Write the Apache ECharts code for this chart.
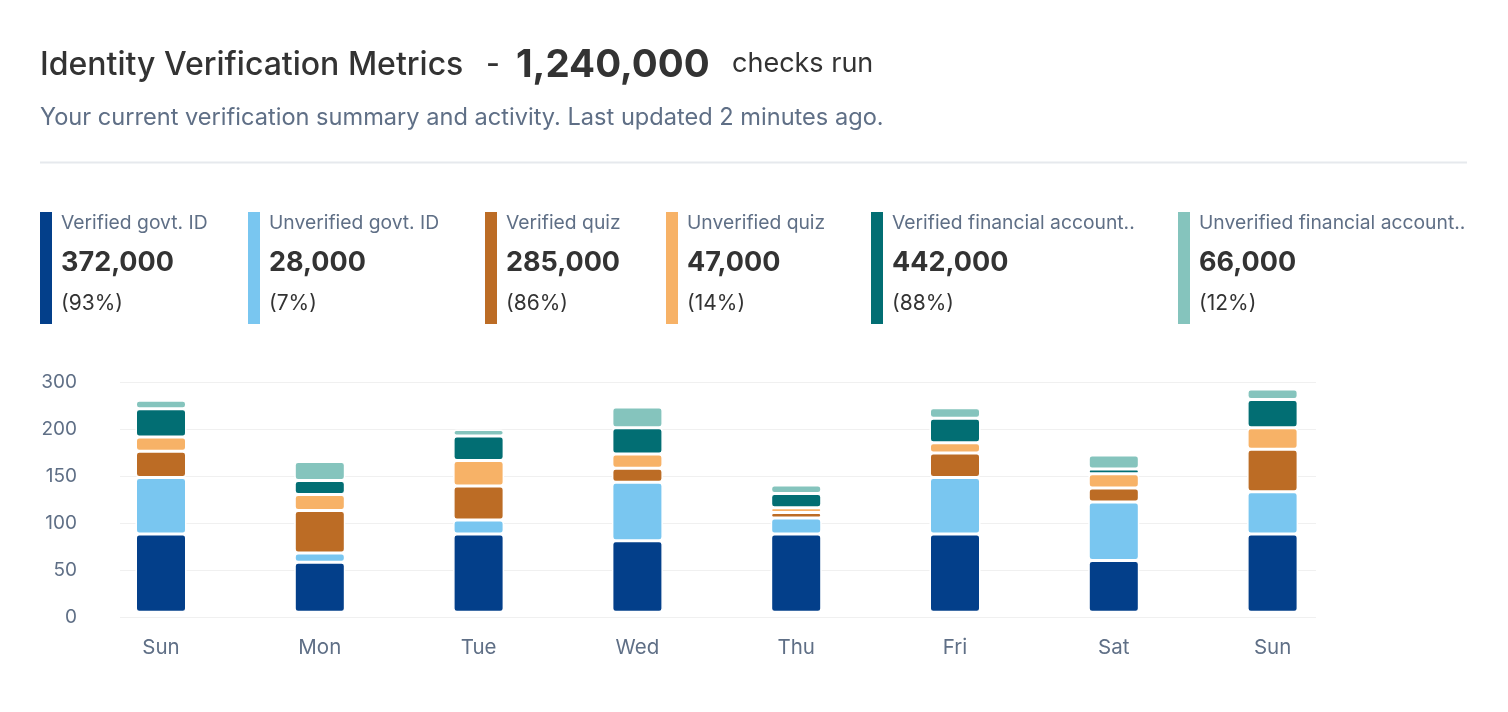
<!DOCTYPE html>
<html>
<head>
<meta charset="utf-8">
<title>Identity Verification Metrics</title>
<script src="https://cdn.jsdelivr.net/npm/echarts@6/dist/echarts.min.js"></script>
<style>
html, body { margin: 0; padding: 0; background: #fff; }
#main { width: 1508px; height: 712px; }
</style>
</head>
<body>
<div id="main"></div>
<script>
// data
var days = ['Sun', 'Mon', 'Tue', 'Wed', 'Thu', 'Fri', 'Sat', 'Sun'];
var yTickLabels = ['0', '50', '100', '150', '200', '300'];
var seriesNames = ['Verified govt. ID', 'Unverified govt. ID', 'Verified quiz', 'Unverified quiz', 'Verified financial account..', 'Unverified financial account..'];
var verifiedGovtId = [83, 53, 83, 76, 83, 83, 55, 83];
var unverifiedGovtId = [60, 10, 15, 62, 17, 60, 62, 45];
var verifiedQuiz = [28, 45, 36, 15, 6, 26, 15, 45];
var unverifiedQuiz = [15, 17, 27, 15, 5, 11, 15, 23];
var verifiedFinancial = [30, 15, 26, 28, 15, 26, 5, 30];
var unverifiedFinancial = [9, 20, 7, 22, 9, 11, 15, 11];
var legendTotals = ['372,000', '28,000', '285,000', '47,000', '442,000', '66,000'];
var legendShares = ['(93%)', '(7%)', '(86%)', '(14%)', '(88%)', '(12%)'];
var totalChecks = '1,240,000';

// style
var colors = ['#033f8a', '#79c6f0', '#bc6c25', '#f7b267', '#026e73', '#85c4bd'];
var legendX = [40, 248, 485, 666, 871, 1178];
var FONT = 'Inter, "Noto Sans", sans-serif';
var GREY = '#5f6f86';
var DARK = '#333333';

var chart = echarts.init(document.getElementById('main'));
var seriesData = [verifiedGovtId, unverifiedGovtId, verifiedQuiz, unverifiedQuiz, verifiedFinancial, unverifiedFinancial];

var series = seriesData.map(function(vals, i){
	return {
		name : seriesNames[i],
		type : 'bar',
		stack : 'checks',
		xAxisIndex : 1,
		yAxisIndex : 1,
		barWidth : 51,
		data : vals,
		itemStyle : {
			color : colors[i],
			borderColor : '#ffffff',
			borderWidth : 1.5,
			borderRadius : 3
		},
		emphasis : { disabled : true }
	};
});

// header + legend cards
var graphics = [
	{ type : 'text', x : 40, y : 65, style : { text : 'Identity Verification Metrics', font : '500 32px ' + FONT, fill : DARK, verticalAlign : 'middle' } },
	{ type : 'text', x : 486, y : 65, style : { text : '-', font : '500 30px ' + FONT, fill : DARK, verticalAlign : 'middle' } },
	{ type : 'text', x : 516, y : 65, style : { text : totalChecks, font : '700 38.5px ' + FONT, fill : DARK, verticalAlign : 'middle' } },
	{ type : 'text', x : 732, y : 64, style : { text : 'checks run', font : '400 27px ' + FONT, fill : DARK, verticalAlign : 'middle' } },
	{ type : 'text', x : 40, y : 118, style : { text : 'Your current verification summary and activity. Last updated 2 minutes ago.', font : '400 23.6px ' + FONT, fill : GREY, verticalAlign : 'middle' } },
	{ type : 'line', shape : { x1 : 40, y1 : 162.5, x2 : 1467, y2 : 162.5 }, style : { stroke : '#e6e9ed', lineWidth : 2 } }
];
seriesNames.forEach(function(name, i){
	var x = legendX[i];
	graphics.push({ type : 'rect', shape : { x : x, y : 212, width : 12, height : 112 }, style : { fill : colors[i] } });
	graphics.push({ type : 'text', x : x + 21, y : 223, style : { text : name, font : '400 19.3px ' + FONT, fill : GREY, verticalAlign : 'middle' } });
	graphics.push({ type : 'text', x : x + 21, y : 263, style : { text : legendTotals[i], font : '700 27px ' + FONT, fill : DARK, verticalAlign : 'middle' } });
	graphics.push({ type : 'text', x : x + 21, y : 304, style : { text : legendShares[i], font : '400 21px ' + FONT, fill : DARK, verticalAlign : 'middle' } });
});

var option = {
	animation : false,
	backgroundColor : '#ffffff',
	graphic : graphics,
	grid : [
		{ left : 120, right : 192, top : 382.3, bottom : 94.3 },
		{ left : 81.6, right : 156, top : 376.8, bottom : 99.8 }
	],
	xAxis : [
		{ type : 'value', gridIndex : 0, show : false, min : 0, max : 1 },
		{
			type : 'category',
			gridIndex : 1,
			data : days,
			axisLine : { show : false },
			axisTick : { show : false },
			axisLabel : { margin : 26, lineHeight : 20, fontSize : 20.5, fontFamily : FONT, color : GREY }
		}
	],
	yAxis : [
		{
			type : 'value',
			gridIndex : 0,
			min : 0,
			max : 250,
			interval : 50,
			axisLine : { show : false },
			axisTick : { show : false },
			splitLine : { lineStyle : { color : '#f0f0f0', width : 1 } },
			axisLabel : {
				margin : 43,
				fontSize : 19,
				fontFamily : FONT,
				color : GREY,
				formatter : function(v){
					return yTickLabels[Math.round(v / 50)];
				}
			}
		},
		{ type : 'value', gridIndex : 1, min : 0, max : 250, show : false }
	],
	series : series
};
chart.setOption(option);
</script>
</body>
</html>
